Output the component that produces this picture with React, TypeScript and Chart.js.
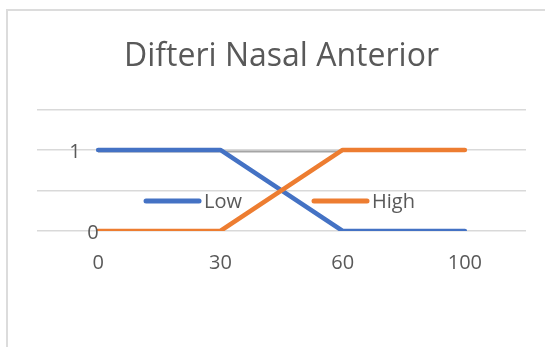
import React, { useEffect, useRef } from "react";
import { Chart, registerables } from "chart.js";

Chart.register(...registerables);

const chartTitle = "Difteri Nasal Anterior";
const categories = ["0", "30", "60", "100"];
const lowValues = [1, 1, 0, 0];
const highValues = [0, 0, 1, 1];
const refValues = [0.98, 0.98, 0.98, null];
const yLabelValues = [0, 1];

const FONT = "'Open Sans', 'DejaVu Sans', sans-serif";
const TEXT_COLOR = "#595959";

const overlayPlugin = {
  id: "overlay",
  afterDatasetsDraw(chart: any) {
    const { ctx, chartArea, scales } = chart;
    const y = scales.y;
    ctx.save();
    // y labels
    ctx.font = `20px ${FONT}`;
    ctx.fillStyle = TEXT_COLOR;
    ctx.textAlign = "center";
    ctx.textBaseline = "middle";
    const xOffsets = [56, 38];
    yLabelValues.forEach((v, i) => {
      ctx.fillText(String(v), chartArea.left + xOffsets[i], y.getPixelForValue(v) + 2);
    });
    // legend
    const items = chart.data.datasets.filter((d: any) => d.showInLegend);
    const sample = 57;
    const gapText = 3;
    const gapItem = 70;
    const widths = items.map((d: any) => sample + gapText + ctx.measureText(d.label).width);
    const total = widths.reduce((a: number, b: number) => a + b, 0) + gapItem * (items.length - 1);
    let x = chart.width / 2 - total / 2;
    const ly = chartArea.bottom - 30;
    items.forEach((d: any, i: number) => {
      ctx.strokeStyle = d.borderColor;
      ctx.lineWidth = 5;
      ctx.lineCap = "round";
      ctx.beginPath();
      ctx.moveTo(x + 2, ly);
      ctx.lineTo(x + sample - 2, ly);
      ctx.stroke();
      ctx.textAlign = "left";
      ctx.fillStyle = TEXT_COLOR;
      ctx.fillText(d.label, x + sample + gapText, ly + 1);
      x += widths[i] + gapItem;
    });
    ctx.restore();
  },
};

export default function App() {
  const ref = useRef<HTMLCanvasElement | null>(null);
  useEffect(() => {
    let chart: Chart | null = null;
    let cancelled = false;
    const make = () => {
      if (cancelled || !ref.current) return;
      chart = new Chart(ref.current, {
        type: "line",
        data: {
          labels: categories,
          datasets: [
            {
              label: "Low",
              data: lowValues,
              borderColor: "#4472c4",
              backgroundColor: "#4472c4",
              borderWidth: 4.5,
              pointRadius: 0,
              borderCapStyle: "round",
              borderJoinStyle: "round",
              order: 1,
              showInLegend: true,
            } as any,
            {
              label: "High",
              data: highValues,
              borderColor: "#ed7d31",
              backgroundColor: "#ed7d31",
              borderWidth: 4.5,
              pointRadius: 0,
              borderCapStyle: "round",
              borderJoinStyle: "round",
              order: 0,
              showInLegend: true,
            } as any,
            {
              label: "",
              data: refValues,
              borderColor: "#a5a5a5",
              backgroundColor: "#a5a5a5",
              borderWidth: 2,
              pointRadius: 0,
              order: 2,
              showInLegend: false,
            } as any,
          ],
        },
        options: {
          responsive: false,
          animation: false,
          layout: { padding: { left: 37, right: 33, top: 0, bottom: 52 } },
          plugins: {
            legend: { display: false },
            tooltip: { enabled: false },
            title: {
              display: true,
              text: chartTitle,
              color: TEXT_COLOR,
              font: { family: FONT, size: 32, weight: "normal" as any, lineHeight: 1.2 },
              padding: { top: 38, bottom: 33 },
            },
          },
          scales: {
            x: {
              offset: true,
              grid: { display: false, drawTicks: false },
              border: { display: false },
              ticks: {
                color: TEXT_COLOR,
                font: { family: FONT, size: 20, lineHeight: 1.2 },
                padding: 20,
                maxRotation: 0,
              },
            },
            y: {
              min: 0,
              max: 1.5,
              grid: { color: "#d9d9d9", lineWidth: 1.5, drawTicks: false },
              border: { display: false },
              ticks: { display: false, stepSize: 0.5 },
            },
          },
        },
        plugins: [overlayPlugin],
      });
    };
    const fonts: any = (document as any).fonts;
    if (fonts && fonts.load) {
      Promise.all([fonts.load(`20px 'Open Sans'`), fonts.load(`32px 'Open Sans'`)])
        .catch(() => {})
        .then(make);
    } else make();
    return () => {
      cancelled = true;
      if (chart) chart.destroy();
    };
  }, []);
  return (
    <div style={{ position: "fixed", left: 0, top: 0, width: 545, height: 347, overflow: "hidden", background: "#fff" }}>
      <div
        style={{
          position: "absolute",
          left: 6,
          top: 9,
          width: 700,
          height: 500,
          border: "2px solid #dcdcdc",
          boxSizing: "border-box",
        }}
      />
      <canvas ref={ref} width={559} height={347} style={{ position: "absolute", left: 0, top: 0, width: 559, height: 347 }} />
    </div>
  );
}
